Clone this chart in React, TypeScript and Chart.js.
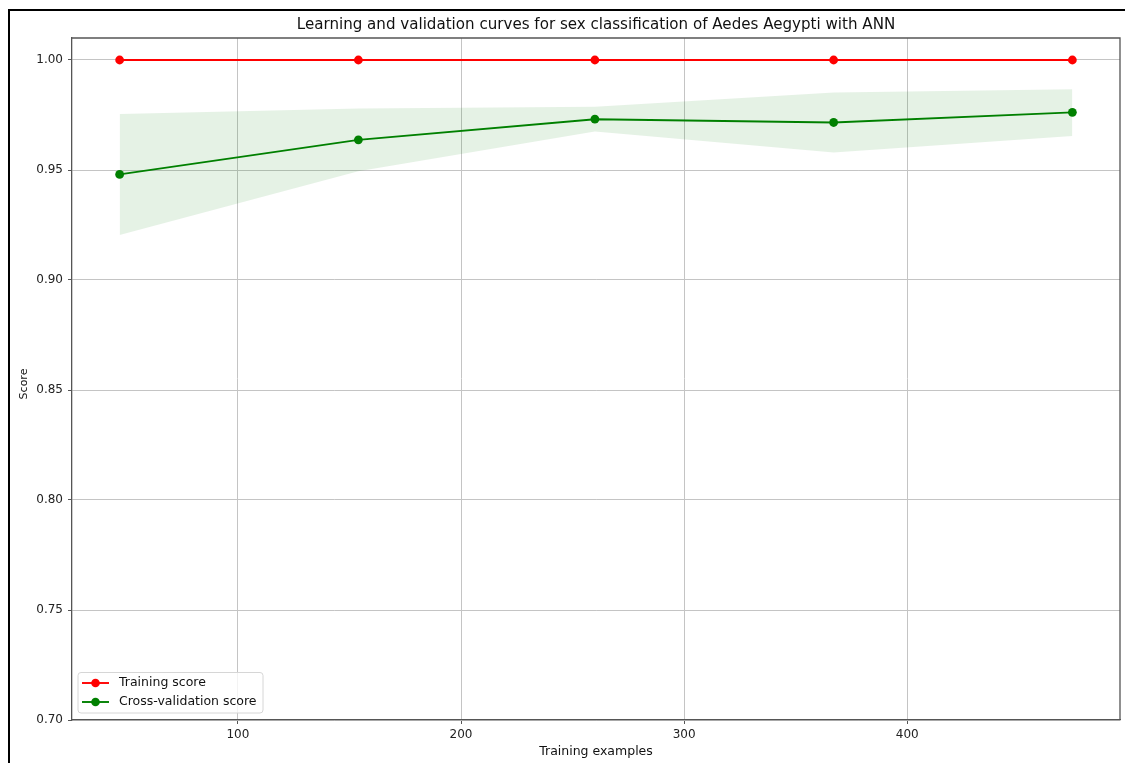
import React, { useEffect, useRef } from "react";
import { Chart, registerables } from "chart.js";

Chart.register(...registerables);

const trainSizes = [47, 154, 260, 367, 474];
const trainScore = [1.0, 1.0, 1.0, 1.0, 1.0];
const cvScore = [0.948, 0.9637, 0.9731, 0.9716, 0.9762];
const cvUpper = [0.9755, 0.978, 0.9787, 0.9852, 0.9867];
const cvLower = [0.9205, 0.9494, 0.9675, 0.958, 0.9655];

const titleText = "Learning and validation curves for sex classification of Aedes Aegypti with ANN";
const xLabel = "Training examples";
const yLabel = "Score";
const legendLabels = ["Training score", "Cross-validation score"];
const legendColors = ["#ff0000", "#008000"];

const FONT = "'DejaVu Sans', 'Liberation Sans', sans-serif";

const decorPlugin = {
  id: "decor",
  afterDraw(chart: any) {
    const { ctx, chartArea } = chart;
    const { left, right, top, bottom } = chartArea;
    ctx.save();
    // top/right spines
    ctx.strokeStyle = "#555";
    ctx.lineWidth = 1.3;
    ctx.beginPath();
    ctx.moveTo(left, top);
    ctx.lineTo(right, top);
    ctx.lineTo(right, bottom);
    ctx.stroke();

    // title
    ctx.fillStyle = "#111";
    ctx.font = `15.1px ${FONT}`;
    ctx.textAlign = "center";
    ctx.textBaseline = "middle";
    ctx.fillText(titleText, (left + right) / 2, 25);

    // axis labels
    ctx.font = `12.5px ${FONT}`;
    ctx.fillText(xLabel, (left + right) / 2, 752);
    ctx.save();
    ctx.translate(24, 384);
    ctx.rotate(-Math.PI / 2);
    ctx.font = `11px ${FONT}`;
    ctx.fillText(yLabel, 0, 0);
    ctx.restore();

    // legend
    const bx = 78, by = 672.5, bw = 185, bh = 40.5, r = 3;
    ctx.beginPath();
    ctx.moveTo(bx + r, by);
    ctx.lineTo(bx + bw - r, by);
    ctx.quadraticCurveTo(bx + bw, by, bx + bw, by + r);
    ctx.lineTo(bx + bw, by + bh - r);
    ctx.quadraticCurveTo(bx + bw, by + bh, bx + bw - r, by + bh);
    ctx.lineTo(bx + r, by + bh);
    ctx.quadraticCurveTo(bx, by + bh, bx, by + bh - r);
    ctx.lineTo(bx, by + r);
    ctx.quadraticCurveTo(bx, by, bx + r, by);
    ctx.closePath();
    ctx.fillStyle = "rgba(255,255,255,0.8)";
    ctx.fill();
    ctx.strokeStyle = "#d6d6d6";
    ctx.lineWidth = 1;
    ctx.stroke();

    const rows = [683, 702];
    legendLabels.forEach((lab, i) => {
      const y = rows[i];
      ctx.strokeStyle = legendColors[i];
      ctx.lineWidth = 1.9;
      ctx.beginPath();
      ctx.moveTo(82, y);
      ctx.lineTo(109, y);
      ctx.stroke();
      ctx.fillStyle = legendColors[i];
      ctx.beginPath();
      ctx.arc(95.5, y, 4.3, 0, Math.PI * 2);
      ctx.fill();
      ctx.fillStyle = "#111";
      ctx.font = `12.5px ${FONT}`;
      ctx.textAlign = "left";
      ctx.textBaseline = "middle";
      ctx.fillText(lab, 119, y);
    });
    ctx.restore();
  },
};

export default function App() {
  const ref = useRef<HTMLCanvasElement | null>(null);

  useEffect(() => {
    if (!ref.current) return;
    const toPts = (ys: number[]) => trainSizes.map((x, i) => ({ x, y: ys[i] }));
    const chart = new Chart(ref.current, {
      type: "line",
      data: {
        datasets: [
          {
            label: legendLabels[0],
            data: toPts(trainScore),
            borderColor: "#ff0000",
            backgroundColor: "#ff0000",
            borderWidth: 1.9,
            pointRadius: 4.4,
            pointBorderWidth: 0,
            pointBackgroundColor: "#ff0000",
            fill: false,
            order: 0,
          },
          {
            label: legendLabels[1],
            data: toPts(cvScore),
            borderColor: "#008000",
            backgroundColor: "#008000",
            borderWidth: 1.9,
            pointRadius: 4.4,
            pointBorderWidth: 0,
            pointBackgroundColor: "#008000",
            fill: false,
            order: 0,
          },
          {
            label: "upper",
            data: toPts(cvUpper),
            borderWidth: 0,
            borderColor: "rgba(0,128,0,0.1)",
            backgroundColor: "rgba(0,128,0,0.1)",
            pointRadius: 0,
            fill: "+1",
            order: 1,
          },
          {
            label: "lower",
            data: toPts(cvLower),
            borderWidth: 0,
            borderColor: "rgba(0,128,0,0.1)",
            backgroundColor: "rgba(0,128,0,0.1)",
            pointRadius: 0,
            fill: false,
            order: 1,
          },
        ],
      },
      options: {
        responsive: false,
        animation: false,
        devicePixelRatio: 1,
        layout: { padding: { left: 0, right: 5, top: 38, bottom: 0 } },
        plugins: {
          legend: { display: false },
          title: { display: false },
          tooltip: { enabled: false },
        },
        scales: {
          x: {
            type: "linear",
            min: 25.65,
            max: 495.35,
            afterFit: (s: any) => {
              s.height = 43;
            },
            ticks: {
              stepSize: 100,
              includeBounds: false,
              color: "#222",
              font: { family: FONT, size: 12 },
              padding: 4,
              maxRotation: 0,
            },
            grid: {
              color: "#c4c4c4",
              lineWidth: 1,
              tickLength: 4,
              tickColor: "#555",
            },
            border: { color: "#555", width: 1.3 },
          },
          y: {
            type: "linear",
            min: 0.7,
            max: 1.01,
            afterFit: (s: any) => {
              s.width = 72;
            },
            ticks: {
              stepSize: 0.05,
              includeBounds: false,
              color: "#222",
              font: { family: FONT, size: 12 },
              padding: 5,
              callback: (v: any) => Number(v).toFixed(2),
            },
            grid: {
              color: "#c4c4c4",
              lineWidth: 1,
              tickLength: 4,
              tickColor: "#555",
            },
            border: { color: "#555", width: 1.3 },
          },
        },
      },
      plugins: [decorPlugin],
    } as any);
    return () => chart.destroy();
  }, []);

  return (
    <div style={{ position: "fixed", left: 0, top: 0, width: 1125, height: 763, background: "#fff", overflow: "hidden" }}>
      <div
        style={{
          position: "absolute",
          left: 8,
          top: 9,
          width: 1300,
          height: 900,
          borderTop: "2px solid #000",
          borderLeft: "2px solid #000",
        }}
      />
      <canvas ref={ref} width={1125} height={763} style={{ position: "absolute", left: 0, top: 0 }} />
    </div>
  );
}
